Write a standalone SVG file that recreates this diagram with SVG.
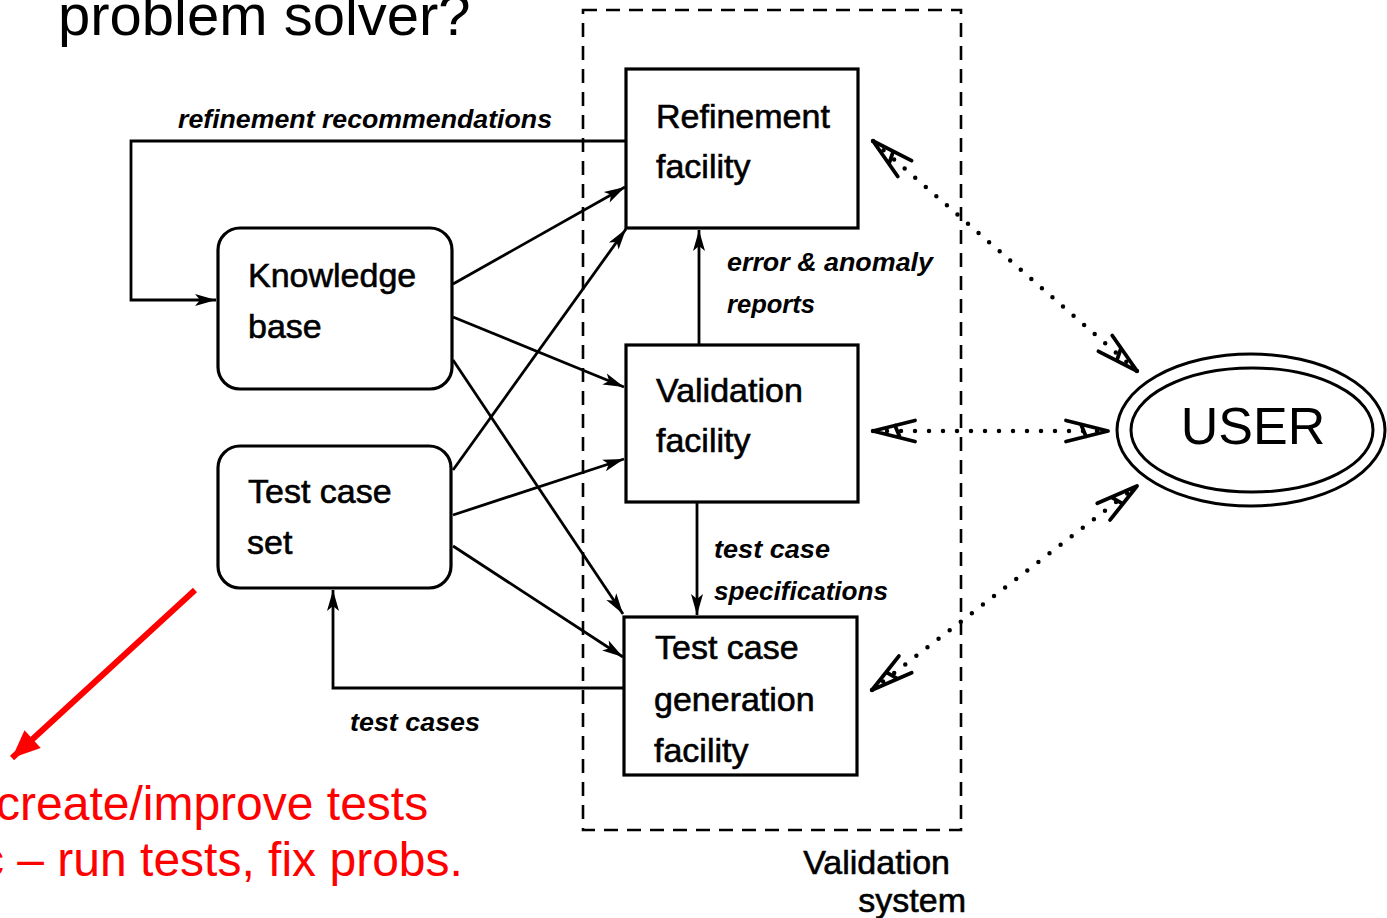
<svg xmlns="http://www.w3.org/2000/svg" width="1387" height="918" viewBox="0 0 1387 918">
<style>
.box{fill:#fff;stroke:#000;stroke-width:3.2}
.nt{font-family:"Liberation Sans",Arial,sans-serif;font-size:34px;fill:#000;stroke:#000;stroke-width:0.6}
.lbl{font-family:"Liberation Sans",Arial,sans-serif;font-size:26px;font-style:italic;font-weight:bold;fill:#000}
.conn{fill:none;stroke:#000;stroke-width:2.8}
.dot{fill:none;stroke:#000;stroke-width:4.5;stroke-linecap:round;stroke-dasharray:0 14}
.red{font-family:"Liberation Sans",Arial,sans-serif;font-size:48px;fill:#ff0000}
</style>
<defs>
<marker id="arr" markerUnits="userSpaceOnUse" viewBox="-22 -8 24 16" refX="0" refY="0" markerWidth="24" markerHeight="16" orient="auto">
<path d="M0,0 L-21,-6 L-16,0 L-21,6 Z" fill="#000"/>
</marker>
<marker id="openA" markerUnits="userSpaceOnUse" viewBox="-46 -14 50 28" refX="0" refY="0" markerWidth="50" markerHeight="28" orient="auto-start-reverse">
<path d="M-42,-10.5 L0,0 L-42,10.5 M-27,-6.5 L-22,5.5" fill="none" stroke="#000" stroke-width="3.8" stroke-linecap="round" stroke-linejoin="round"/>
</marker>
<marker id="redArr" markerUnits="userSpaceOnUse" viewBox="-30 -14 32 28" refX="0" refY="0" markerWidth="32" markerHeight="28" orient="auto">
<path d="M0,0 L-28,-12 L-28,12 Z" fill="#ff0000"/>
</marker>
</defs>

<text x="58" y="35" font-family="Liberation Sans, Arial, sans-serif" font-size="58" fill="#000">problem solver?</text>

<g id="boundary">
<rect x="583" y="10" width="378" height="820" fill="none" stroke="#000" stroke-width="2.6" stroke-dasharray="14 9"/>
<text class="nt" x="950" y="874" text-anchor="end">Validation</text>
<text class="nt" x="966" y="912" text-anchor="end">system</text>
</g>

<g id="connectors">
<polyline class="conn" points="626,141 131,141 131,300 216,300" marker-end="url(#arr)"/>
<text class="lbl" x="178" y="128" textLength="374" lengthAdjust="spacingAndGlyphs">refinement recommendations</text>
<line class="conn" x1="453" y1="284" x2="625" y2="187" marker-end="url(#arr)"/>
<line class="conn" x1="453" y1="317" x2="624" y2="387" marker-end="url(#arr)"/>
<line class="conn" x1="453" y1="360" x2="623" y2="614" marker-end="url(#arr)"/>
<line class="conn" x1="453" y1="470" x2="626" y2="229" marker-end="url(#arr)"/>
<line class="conn" x1="453" y1="515" x2="624" y2="459" marker-end="url(#arr)"/>
<line class="conn" x1="453" y1="546" x2="623" y2="657" marker-end="url(#arr)"/>
<polyline class="conn" points="624,688 333,688 333,590" marker-end="url(#arr)"/>
<text class="lbl" x="350" y="731" textLength="130" lengthAdjust="spacingAndGlyphs">test cases</text>
<line class="conn" x1="699" y1="345" x2="699" y2="230" marker-end="url(#arr)"/>
<text class="lbl" x="727" y="271" textLength="206" lengthAdjust="spacingAndGlyphs">error &amp; anomaly</text>
<text class="lbl" x="727" y="313" textLength="88" lengthAdjust="spacingAndGlyphs">reports</text>
<line class="conn" x1="697" y1="502" x2="697" y2="615" marker-end="url(#arr)"/>
<text class="lbl" x="714" y="558" textLength="116" lengthAdjust="spacingAndGlyphs">test case</text>
<text class="lbl" x="714" y="600" textLength="174" lengthAdjust="spacingAndGlyphs">specifications</text>
<line class="dot" x1="873" y1="141" x2="1137" y2="371" marker-start="url(#openA)" marker-end="url(#openA)"/>
<line class="dot" x1="873" y1="431" x2="1108" y2="431" marker-start="url(#openA)" marker-end="url(#openA)"/>
<line class="dot" x1="872" y1="690" x2="1137" y2="486" marker-start="url(#openA)" marker-end="url(#openA)"/>
<line x1="195" y1="590" x2="12" y2="758" stroke="#ff0000" stroke-width="6" marker-end="url(#redArr)"/>
</g>

<g id="refinement">
<rect class="box" x="626" y="69" width="232" height="159"/>
<text class="nt" x="656" y="128">Refinement</text>
<text class="nt" x="656" y="178">facility</text>
</g>

<g id="validation">
<rect class="box" x="626" y="345" width="232" height="157"/>
<text class="nt" x="656" y="402">Validation</text>
<text class="nt" x="656" y="452">facility</text>
</g>

<g id="tcgen">
<rect class="box" x="624" y="617" width="233" height="158"/>
<text class="nt" x="655" y="659">Test case</text>
<text class="nt" x="654" y="711">generation</text>
<text class="nt" x="654" y="762">facility</text>
</g>

<g id="kb">
<rect class="box" x="218" y="228" width="234" height="161" rx="22" ry="22"/>
<text class="nt" x="248" y="287">Knowledge</text>
<text class="nt" x="248" y="338">base</text>
</g>

<g id="tcs">
<rect class="box" x="218" y="446" width="233" height="142" rx="22" ry="22"/>
<text class="nt" x="248" y="503">Test case</text>
<text class="nt" x="247" y="554">set</text>
</g>

<g id="user">
<ellipse cx="1251" cy="430" rx="134" ry="76" fill="#fff" stroke="#000" stroke-width="3"/>
<ellipse cx="1252" cy="430" rx="121" ry="62" fill="none" stroke="#000" stroke-width="3"/>
<text x="1253" y="444" text-anchor="middle" font-family="Liberation Sans, Arial, sans-serif" font-size="52" fill="#000">USER</text>
</g>

<g id="note">
<text class="red" x="-4" y="820">create/improve tests</text>
<text class="red" x="-20" y="876">c – run tests, fix probs.</text>
</g>
</svg>
